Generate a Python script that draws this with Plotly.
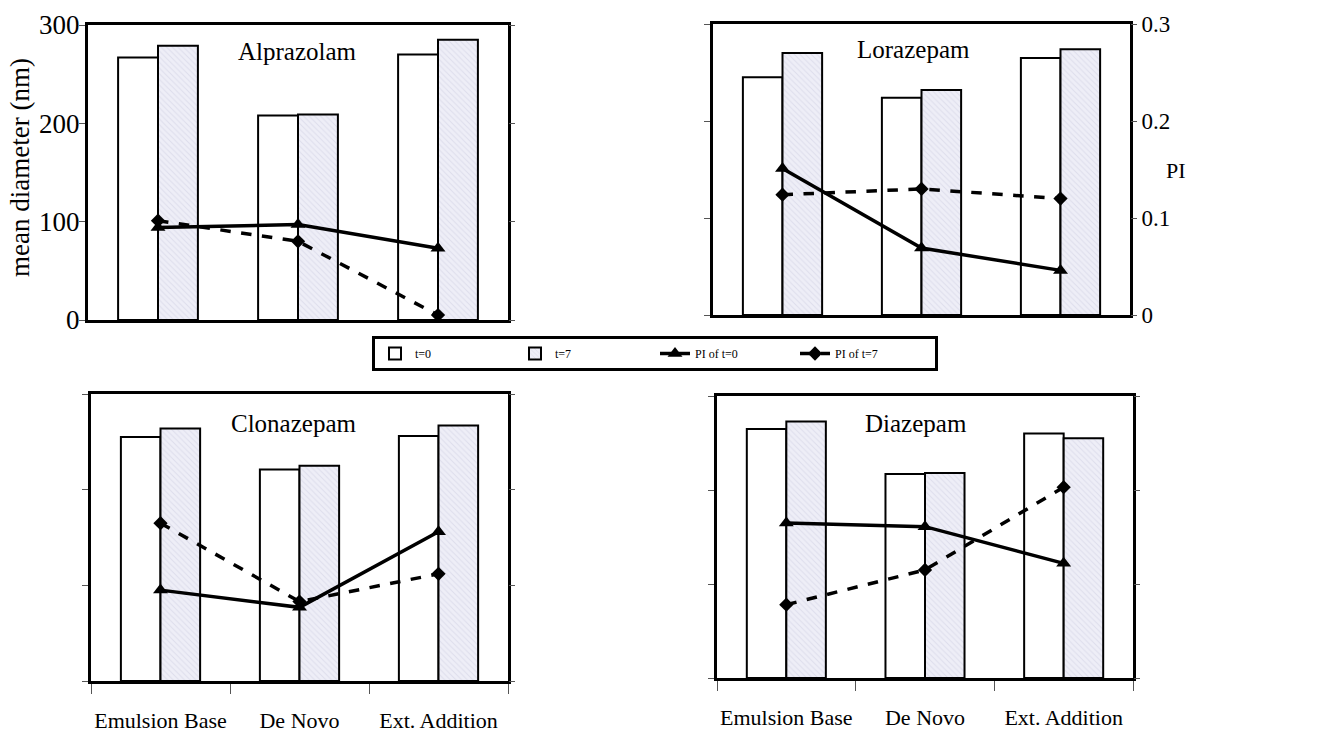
import plotly.graph_objects as go

categories = ["Emulsion Base", "De Novo", "Ext. Addition"]
drug_names = ["Alprazolam", "Lorazepam", "Clonazepam", "Diazepam"]

diameter_ticks = [0, 100, 200, 300]
pi_ticks = [0, 0.1, 0.2, 0.3]
pi_tick_labels = ["0", "0.1", "0.2", "0.3"]

alprazolam_t0 = [267, 208, 270]
alprazolam_t7 = [279, 209, 285]
alprazolam_pi_t0 = [0.094, 0.097, 0.073]
alprazolam_pi_t7 = [0.101, 0.080, 0.005]

lorazepam_t0 = [245, 224, 265]
lorazepam_t7 = [270, 232, 274]
lorazepam_pi_t0 = [0.151, 0.069, 0.046]
lorazepam_pi_t7 = [0.124, 0.130, 0.120]

clonazepam_t0 = [255, 221, 256]
clonazepam_t7 = [264, 225, 267]
clonazepam_pi_t0 = [0.095, 0.077, 0.156]
clonazepam_pi_t7 = [0.165, 0.083, 0.112]

diazepam_t0 = [265, 217, 260]
diazepam_t7 = [273, 218, 255]
diazepam_pi_t0 = [0.165, 0.161, 0.122]
diazepam_pi_t7 = [0.078, 0.115, 0.203]

panels = [
    (alprazolam_t0, alprazolam_t7, alprazolam_pi_t0, alprazolam_pi_t7),
    (lorazepam_t0, lorazepam_t7, lorazepam_pi_t0, lorazepam_pi_t7),
    (clonazepam_t0, clonazepam_t7, clonazepam_pi_t0, clonazepam_pi_t7),
    (diazepam_t0, diazepam_t7, diazepam_pi_t0, diazepam_pi_t7),
]

W, H = 1325, 732
# pixel boxes (left, right, top, bottom)
boxes = [(88, 508, 25, 320), (713, 1130, 24, 315), (91, 508, 394, 681), (717, 1133, 396, 678)]
title_pos = [(297, 52), (913, 50), (294, 423), (916, 423)]

FONT = "Liberation Serif, Times New Roman, serif"
fig = go.Figure()
layout = dict(
    width=W, height=H, margin=dict(l=0, r=0, t=0, b=0, autoexpand=False),
    paper_bgcolor="white", plot_bgcolor="white",
    barmode="group", bargap=0.43, bargroupgap=0,
    font=dict(family=FONT, color="black"),
    showlegend=True,
)
annotations = []

for i, (d0, d7, p0, p7) in enumerate(panels):
    n = i + 1
    xa = f"x{n}" if n > 1 else "x"
    yp = 3 * i + 1
    ys = 3 * i + 2
    yi = 3 * i + 3
    ya_p = f"y{yp}" if yp > 1 else "y"
    show = (i == 0)
    fig.add_trace(go.Bar(x=categories, y=d0, name="t=0", xaxis=xa, yaxis=ya_p,
                         marker=dict(color="white", line=dict(color="black", width=2)),
                         showlegend=show, legendrank=1))
    fig.add_trace(go.Bar(x=categories, y=d7, name="t=7", xaxis=xa, yaxis=ya_p,
                         marker=dict(color="#eeeef7", line=dict(color="black", width=2),
                                     pattern=dict(shape="\\", fgcolor="#cdcde0", bgcolor="#eeeef7",
                                                  size=4, solidity=0.25)),
                         showlegend=show, legendrank=2))
    fig.add_trace(go.Scatter(x=categories, y=p0, name="PI of t=0", xaxis=xa, yaxis=f"y{ys}",
                             mode="lines+markers", line=dict(color="black", width=3.5),
                             marker=dict(symbol="triangle-up", size=13, color="black"),
                             showlegend=show, legendrank=3))
    fig.add_trace(go.Scatter(x=categories, y=p7, name="PI of t=7", xaxis=xa, yaxis=f"y{ys}",
                             mode="lines+markers", line=dict(color="black", width=3.5, dash="dash"),
                             marker=dict(symbol="diamond", size=11, color="black"),
                             showlegend=show, legendrank=4))

    l, r, t, b = boxes[i]
    xdom = [l / W, r / W]
    ydom = [1 - b / H, 1 - t / H]
    bottom = i >= 2
    layout[f"xaxis{n}" if n > 1 else "xaxis"] = dict(
        domain=xdom, anchor=ya_p, type="category", automargin=False,
        showline=True, mirror=True, linecolor="black", linewidth=3,
        showgrid=False, zeroline=False, tickangle=0, ticklabelstandoff=18,
        showticklabels=bottom, ticks="outside" if bottom else "", tickson="boundaries",
        ticklen=10, tickwidth=1, tickcolor="#555",
        tickfont=dict(family=FONT, size=22, color="black"),
    )
    layout[f"yaxis{yp}" if yp > 1 else "yaxis"] = dict(
        domain=ydom, anchor=xa, range=[0, 300], tickvals=diameter_ticks, automargin=False,
        showline=True, mirror=True, linecolor="black", linewidth=3, ticklabelstandoff=-6,
        showgrid=False, zeroline=False, ticks="outside", ticklen=6, tickwidth=1, tickcolor="#555",
        showticklabels=(i == 0), tickfont=dict(family=FONT, size=27, color="black"),
    )
    layout[f"yaxis{ys}"] = dict(
        overlaying=ya_p, side="right", anchor=xa, range=[0, 0.3], tickvals=pi_ticks,
        ticktext=pi_tick_labels, showline=False, showgrid=False, zeroline=False, automargin=False,
        ticks="outside", ticklen=6, tickwidth=1, tickcolor="#555",
        showticklabels=(i == 1), tickfont=dict(family=FONT, size=23, color="black"),
    )
    layout[f"yaxis{yi}"] = dict(
        overlaying=ya_p, side="left", anchor=xa, range=[0, 300], tickvals=diameter_ticks,
        showline=False, mirror="ticks", showgrid=False, zeroline=False, automargin=False,
        ticks="inside", ticklen=7, tickwidth=1, tickcolor="#555", showticklabels=False,
    )
    tx, ty = title_pos[i]
    annotations.append(dict(text=drug_names[i], x=tx / W, y=1 - ty / H, xref="paper", yref="paper",
                            xanchor="center", yanchor="middle",
                            showarrow=False, font=dict(family=FONT, size=25, color="black")))

annotations.append(dict(text="mean diameter (nm)", x=20 / W, y=1 - 168 / H, xref="paper", yref="paper",
                        xanchor="center", yanchor="middle",
                        textangle=-90, showarrow=False, font=dict(family=FONT, size=27, color="black")))
annotations.append(dict(text="PI", x=1176 / W, y=1 - 170 / H, xref="paper", yref="paper",
                        xanchor="center", yanchor="middle",
                        showarrow=False, font=dict(family=FONT, size=22, color="black")))

layout["annotations"] = annotations
layout["legend"] = dict(
    orientation="h", x=372 / W, y=1 - 336 / H, xanchor="left", yanchor="top",
    bordercolor="black", borderwidth=3, bgcolor="white",
    font=dict(family=FONT, size=12, color="black"),
    entrywidth=95, entrywidthmode="pixels", traceorder="normal",
)
fig.update_layout(**layout)
fig.write_html("out.html")
